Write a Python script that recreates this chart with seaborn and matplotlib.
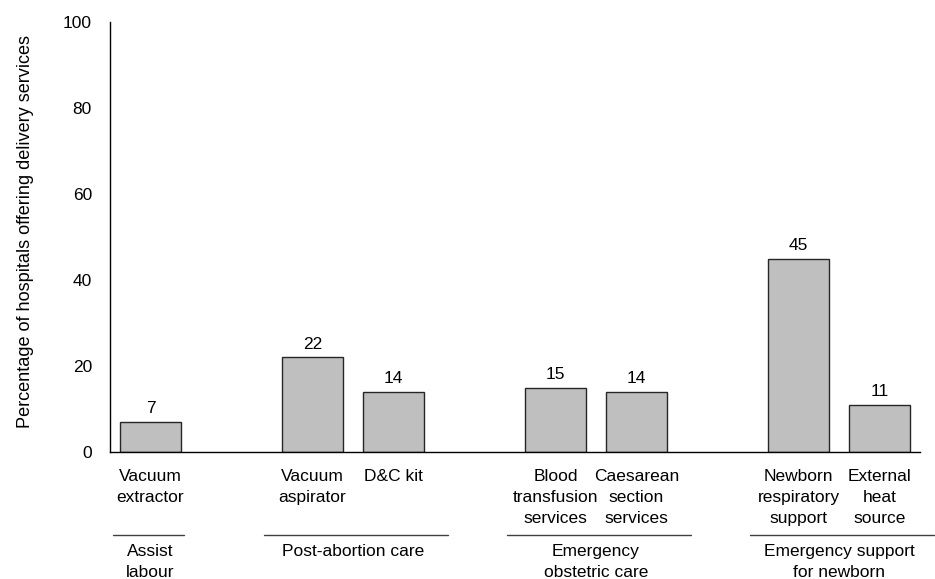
import matplotlib
matplotlib.use("Agg")
import matplotlib.pyplot as plt
import seaborn as sns
import pandas as pd

# --- dados ---
grupos = ["Assist\nlabour", "Post-abortion care", "Emergency\nobstetric care", "Emergency support\nfor newborn"]
itens_por_grupo = [
    ["Vacuum\nextractor"],
    ["Vacuum\naspirator", "D&C kit"],
    ["Blood\ntransfusion\nservices", "Caesarean\nsection\nservices"],
    ["Newborn\nrespiratory\nsupport", "External\nheat\nsource"],
]
valores = [7, 22, 14, 15, 14, 45, 11]

categorias = [c for g in itens_por_grupo for c in g]
df = pd.DataFrame({"item": categorias, "pct": valores})

# ordem com espaços vazios entre os grupos
ordem = []
for i, g in enumerate(itens_por_grupo):
    if i > 0:
        ordem.append(" " * i)
    ordem.extend(g)

# --- gráfico ---
sns.set_theme(style="white", rc={"text.color": "black", "xtick.color": "black",
                                 "ytick.color": "black", "axes.labelcolor": "black"})
plt.rcParams["font.family"] = ["Liberation Sans", "DejaVu Sans"]

fig = plt.figure(figsize=(9.35, 5.79), dpi=100)
ax = fig.add_axes([0.1176, 0.2193, 0.8663, 0.7427])

sns.barplot(data=df, x="item", y="pct", order=ordem, color="#bfbfbf",
            saturation=1, width=0.75, edgecolor="#262626", linewidth=1, ax=ax)

for cont in ax.containers:
    ax.bar_label(cont, fmt="%d", padding=4, fontsize=12.5)

ax.set_ylim(0, 100)
ax.set_xlim(-0.5, len(ordem) - 0.5)
ax.set_yticks(range(0, 101, 20))
ax.tick_params(axis="y", length=0, pad=13, labelsize=12.5)
ax.tick_params(axis="x", length=0, pad=12, labelsize=12.5)
ax.set_xticks(range(len(ordem)))
ax.set_xticklabels([o if o.strip() else "" for o in ordem])
plt.setp(ax.get_xticklabels(), linespacing=1.5)
ax.set_xlabel("")
ax.set_ylabel("Percentage of hospitals offering delivery services", fontsize=13.1, labelpad=21)
ax.yaxis.label.set_y(0.513)

for s in ["top", "right"]:
    ax.spines[s].set_visible(False)
for s in ["left", "bottom"]:
    ax.spines[s].set_color("black")
    ax.spines[s].set_linewidth(1)

# rótulos dos grupos com linha acima
trans = ax.get_xaxis_transform()
for g, membros in zip(grupos, itens_por_grupo):
    x0 = ordem.index(membros[0])
    x1 = ordem.index(membros[-1])
    if len(membros) == 1:
        a, b = x0 - 0.46, x1 + 0.41
    else:
        a, b = x0 - 0.6, x1 + 0.67
    ax.plot([a, b], [-0.193, -0.193], transform=trans, color="#404040",
            lw=1, clip_on=False)
    ax.text((x0 + x1) / 2, -0.215, g, transform=trans, ha="center", va="top",
            fontsize=12.5, linespacing=1.5)

fig.savefig("out.png", dpi=100)
